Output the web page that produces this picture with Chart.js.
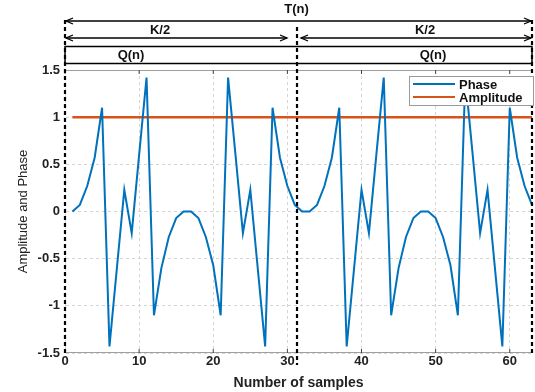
<!DOCTYPE html>
<html>
<head>
<meta charset="utf-8">
<script src="https://cdn.jsdelivr.net/npm/chart.js@4"></script>
<style>
  html, body { margin: 0; padding: 0; background: #fff; }
  #wrap { width: 535px; height: 392px; }
</style>
</head>
<body>
<div id="wrap"><canvas id="c" width="535" height="392"></canvas></div>
<script>
const samples = [
  1, 2, 3, 4, 5, 6, 7, 8, 9, 10, 11, 12, 13, 14, 15, 16,
  17, 18, 19, 20, 21, 22, 23, 24, 25, 26, 27, 28, 29, 30, 31, 32,
  33, 34, 35, 36, 37, 38, 39, 40, 41, 42, 43, 44, 45, 46, 47, 48,
  49, 50, 51, 52, 53, 54, 55, 56, 57, 58, 59, 60, 61, 62, 63
];
const phase = [
  0, 0.07, 0.27, 0.57, 1.1, -1.43, -0.6, 0.23, -0.23, 0.6, 1.42, -1.1, -0.6, -0.27, -0.07, 0,
  0, -0.07, -0.27, -0.57, -1.1, 1.42, 0.6, -0.23, 0.23, -0.6, -1.43, 1.1, 0.57, 0.27, 0.07, 0,
  0, 0.07, 0.27, 0.57, 1.1, -1.43, -0.6, 0.23, -0.23, 0.6, 1.42, -1.1, -0.6, -0.27, -0.07, 0,
  0, -0.07, -0.27, -0.57, -1.1, 1.42, 0.6, -0.23, 0.23, -0.6, -1.43, 1.1, 0.57, 0.27, 0.07
];
const amplitude = [
  1, 1, 1, 1, 1, 1, 1, 1, 1, 1, 1, 1, 1, 1, 1, 1,
  1, 1, 1, 1, 1, 1, 1, 1, 1, 1, 1, 1, 1, 1, 1, 1,
  1, 1, 1, 1, 1, 1, 1, 1, 1, 1, 1, 1, 1, 1, 1, 1,
  1, 1, 1, 1, 1, 1, 1, 1, 1, 1, 1, 1, 1, 1, 1
];
const xTicks = [0, 10, 20, 30, 40, 50, 60];
const seriesNames = ["Phase", "Amplitude"];
const seriesColors = ["#0072BD", "#D95319"];

// segment markers along the top: whole frame T(n), two halves K/2 and Q(n)
const frameStart = 0;
const frameEnd = 63;
const halfSplit = 31.3;
const spanLabels = { whole: "T(n)", half: "K/2", block: "Q(n)" };

const FONT = "'Liberation Sans', Arial, sans-serif";

const toPoints = ys => ys.map((y, i) => ({ x: samples[i], y }));

function arrow(ctx, x1, x2, y) {
  ctx.beginPath();
  ctx.moveTo(x1, y);
  ctx.lineTo(x2, y);
  ctx.stroke();
  [[x1, 1], [x2, -1]].forEach(([x, d]) => {
    ctx.beginPath();
    ctx.moveTo(x + d * 7, y - 3);
    ctx.lineTo(x, y);
    ctx.lineTo(x + d * 7, y + 3);
    ctx.stroke();
  });
}

const overlay = {
  id: "overlay",
  beforeDatasetsDraw(chart) {
    const { ctx, chartArea: a, scales: { x } } = chart;
    ctx.save();
    ctx.strokeStyle = "#a0a0a0";
    ctx.lineWidth = 1;
    ctx.beginPath();
    ctx.moveTo(a.left, a.top + 0.5);
    ctx.lineTo(a.right, a.top + 0.5);
    ctx.moveTo(a.left, a.bottom - 0.5);
    ctx.lineTo(a.right, a.bottom - 0.5);
    ctx.stroke();
    // inward ticks
    ctx.strokeStyle = "#444";
    x.ticks.forEach(t => {
      const px = x.getPixelForValue(t.value);
      ctx.beginPath();
      ctx.moveTo(px, a.top);
      ctx.lineTo(px, a.top + 4);
      ctx.moveTo(px, a.bottom);
      ctx.lineTo(px, a.bottom - 4);
      ctx.stroke();
    });
    ctx.restore();
  },
  afterDraw(chart) {
    const { ctx, chartArea: a, scales: { x } } = chart;
    const x0 = x.getPixelForValue(frameStart);
    const x1 = x.getPixelForValue(frameEnd);
    const xm = x.getPixelForValue(halfSplit);
    ctx.save();

    // dashed vertical boundaries
    ctx.strokeStyle = "#000";
    ctx.lineWidth = 2.2;
    ctx.setLineDash([4, 3]);
    [[x0, 20, a.bottom + 2], [xm, 27, a.bottom + 12], [x1, 20, a.bottom + 2]].forEach(([px, y1, y2]) => {
      ctx.beginPath();
      ctx.moveTo(px, y1);
      ctx.lineTo(px, y2);
      ctx.stroke();
    });
    ctx.setLineDash([]);

    // arrows
    ctx.lineWidth = 1.3;
    arrow(ctx, x0 + 1, x1 - 1, 21);
    arrow(ctx, x0 + 1, xm - 10, 38);
    arrow(ctx, xm + 4, x1 - 1, 38);

    // Q(n) box
    ctx.lineWidth = 1.5;
    ctx.strokeRect(x0, 46.5, x1 - x0, 17);

    ctx.fillStyle = "#111";
    ctx.font = "bold 13px " + FONT;
    ctx.textAlign = "center";
    ctx.textBaseline = "middle";
    ctx.fillText(spanLabels.whole, (x0 + x1) / 2 - 2, 9);
    ctx.fillText(spanLabels.half, 160, 30);
    ctx.fillText(spanLabels.half, 425, 30);
    ctx.fillText(spanLabels.block, 131, 55);
    ctx.fillText(spanLabels.block, 433, 55);

    // legend box inside the plot
    const lx = 409, ly = 76, lw = 124, lh = 29;
    ctx.fillStyle = "#fff";
    ctx.fillRect(lx, ly, lw, lh);
    ctx.strokeStyle = "#9a9a9a";
    ctx.lineWidth = 1;
    ctx.strokeRect(lx + 0.5, ly + 0.5, lw, lh);
    ctx.font = "bold 13px " + FONT;
    ctx.textAlign = "left";
    seriesNames.forEach((name, i) => {
      const yy = ly + 8 + i * 13;
      ctx.strokeStyle = seriesColors[i];
      ctx.lineWidth = 2;
      ctx.beginPath();
      ctx.moveTo(lx + 4, yy);
      ctx.lineTo(lx + 46, yy);
      ctx.stroke();
      ctx.fillStyle = "#111";
      ctx.fillText(name, lx + 50, yy + 1);
    });
    ctx.restore();
  }
};

new Chart(document.getElementById("c"), {
  type: "line",
  data: {
    datasets: [
      {
        label: seriesNames[0],
        data: toPoints(phase),
        borderColor: seriesColors[0],
        borderWidth: 2,
        pointRadius: 0,
        tension: 0
      },
      {
        label: seriesNames[1],
        data: toPoints(amplitude),
        borderColor: seriesColors[1],
        borderWidth: 2.5,
        pointRadius: 0,
        tension: 0
      }
    ]
  },
  options: {
    responsive: false,
    animation: false,
    layout: { padding: { top: 70, right: 3, left: 0, bottom: 0 } },
    plugins: { legend: { display: false }, tooltip: { enabled: false } },
    scales: {
      x: {
        type: "linear",
        min: 0,
        max: 63,
        afterFit: s => { s.height = 39; },
        afterBuildTicks: s => { s.ticks = xTicks.map(v => ({ value: v })); },
        ticks: {
          font: { family: FONT, size: 13, weight: "bold" },
          color: "#222",
          padding: 1,
          maxRotation: 0
        },
        grid: { color: "#d4d4d4", drawTicks: false },
        border: { display: true, color: "rgba(0,0,0,0)", dash: [3, 3] },
        title: {
          display: true,
          text: "Number of samples",
          font: { family: FONT, size: 14, weight: "bold" },
          color: "#222",
          padding: { top: 0, bottom: 0 }
        }
      },
      y: {
        min: -1.5,
        max: 1.5,
        afterFit: s => { s.width = 65; },
        ticks: {
          stepSize: 0.5,
          font: { family: FONT, size: 13, weight: "bold" },
          color: "#222",
          padding: 5,
          callback: v => String(v)
        },
        grid: { color: "#d4d4d4", drawTicks: false },
        border: { display: true, color: "rgba(0,0,0,0)", dash: [3, 3] },
        title: {
          display: true,
          text: "Amplitude and Phase",
          font: { family: FONT, size: 13 },
          color: "#222",
          padding: { top: 16, bottom: 0 }
        }
      }
    }
  },
  plugins: [overlay]
});
</script>
</body>
</html>
